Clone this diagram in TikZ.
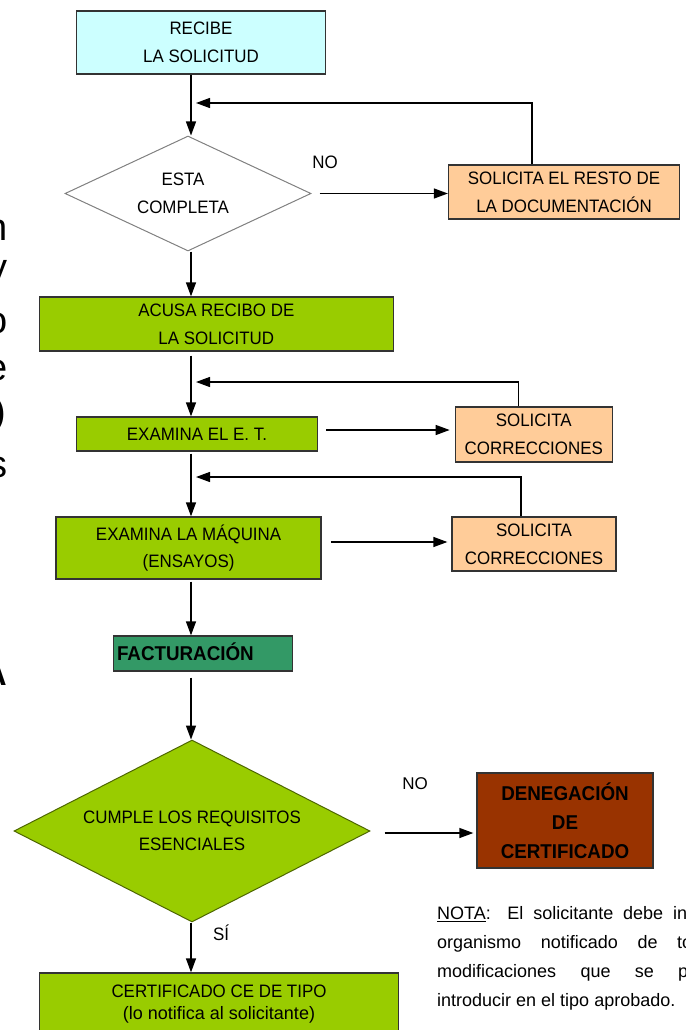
\documentclass[tikz,border=0pt]{standalone}
\usepackage{fontspec}
\setmainfont{Liberation Sans}
\newfontfamily\capsfont{Liberation Sans}[FakeStretch=0.94]
\usetikzlibrary{arrows.meta,shapes.geometric}

\definecolor{celeste}{HTML}{CCFFFF}
\definecolor{salmon}{HTML}{FFCC99}
\definecolor{lima}{HTML}{99CC00}
\definecolor{pino}{HTML}{339966}
\definecolor{ladrillo}{HTML}{993300}
\definecolor{oliva}{HTML}{4D6600}

\begin{document}
\begin{tikzpicture}[x=1pt, y=-1pt,
	   caja/.style={draw=black!80, line width=1.3pt, rectangle, inner sep=0pt, align=center,
	      font=\capsfont\fontsize{18}{28}\selectfont},
	   rombo/.style={draw, diamond, inner sep=0pt, align=center,
	      font=\capsfont\fontsize{18}{28}\selectfont},
	   flecha/.style={-{Triangle[length=14pt,width=10pt]}, line width=1.3pt},
	   etiq/.style={inner sep=0pt, font=\capsfont\fontsize{18}{22}\selectfont},
	   trozo/.style={anchor=base east, inner sep=0pt, font=\fontsize{38}{40}\selectfont}]
	   \useasboundingbox (0,0) rectangle (685,1030);
	   \clip (0,0) rectangle (685,1030);
	   \coordinate (spine) at (191,0);
	   % the main column
	   \node [caja, fill=celeste, minimum width=249pt, minimum height=63pt] (recibe) at (201,42.5) {RECIBE\\LA SOLICITUD};
	   \node [rombo, draw=black!50, line width=1pt, fill=white, shape aspect=2.14, minimum width=246pt, minimum height=115pt] (esta) at (188,193.5) {\hspace*{-10pt}ESTA\\\hspace*{-10pt}COMPLETA};
	   \node [caja, fill=salmon, minimum width=231pt, minimum height=54pt] (resto) at (564,192) {SOLICITA EL RESTO DE\\LA DOCUMENTACIÓN};
	   \node [caja, fill=lima, minimum width=354pt, minimum height=54pt] (acusa) at (216.3,324) {ACUSA RECIBO DE\\LA SOLICITUD};
	   \node [caja, fill=lima, minimum width=241pt, minimum height=34pt] (et) at (197,434) {EXAMINA EL E. T.};
	   \node [caja, fill=salmon, minimum width=157pt, minimum height=55pt] (corr1) at (533.8,434.5) {SOLICITA\\CORRECCIONES};
	   \node [caja, fill=lima, minimum width=265pt, minimum height=62pt] (maq) at (188.6,548) {\raisebox{3pt}{\shortstack{EXAMINA LA MÁQUINA\\[8pt](ENSAYOS)}}};
	   \node [caja, fill=salmon, minimum width=164pt, minimum height=54pt] (corr2) at (534,544) {SOLICITA\\CORRECCIONES};
	   \node [caja, fill=pino, minimum width=179pt, minimum height=35pt, text width=172pt, align=left, font=\capsfont\bfseries\fontsize{20}{24}\selectfont] (fact) at (203,653.5) {\raisebox{3pt}{FACTURACIÓN}};
	   \node [rombo, draw=oliva, line width=1pt, fill=lima, shape aspect=1.96, minimum width=356pt, minimum height=182pt] (cumple) at (192,831) {\raisebox{-6pt}{\shortstack{CUMPLE LOS REQUISITOS\\[8pt]ESENCIALES}}};
	   \node [caja, fill=ladrillo, minimum width=176pt, minimum height=95pt, font=\capsfont\bfseries\fontsize{20}{29}\selectfont] (deneg) at (565,820.5) {DENEGACIÓN\\DE\\CERTIFICADO};
	   \node [caja, fill=lima, minimum width=359pt, minimum height=64pt, text depth=0pt] (cert) at (219,1005) {\raisebox{5pt}{\shortstack{CERTIFICADO CE DE TIPO\\[6pt]{\rmfamily\fontsize{18}{20}\selectfont(lo notifica al solicitante)}}}};
	   % down arrows
	   \draw [flecha] (recibe.south -| spine) -- (esta.north -| spine);
	   \draw [flecha] (esta.south -| spine) -- (acusa.north -| spine);
	   \draw [flecha, shorten <=4pt] (acusa.south -| spine) -- (et.north -| spine);
	   \draw [flecha, shorten <=2pt] (et.south -| spine) -- (maq.north -| spine);
	   \draw [flecha, shorten <=2pt] (maq.south -| spine) -- (fact.north -| spine);
	   \draw [flecha, shorten <=6pt] (fact.south -| spine) -- (cumple.north -| spine);
	   \draw [flecha] (cumple.south -| spine) -- (cert.north -| spine);
	   % side arrows
	   \draw [flecha, shorten <=8pt] (esta.east) -- (esta.east -| resto.west);
	   \draw [flecha, shorten <=8pt, shorten >=5pt] ([yshift=4pt]et.east) -- ([yshift=4pt]et.east -| corr1.west);
	   \draw [flecha, shorten <=9pt, shorten >=4pt] ([yshift=6pt]maq.east) -- ([yshift=6pt]maq.east -| corr2.west);
	   \draw [flecha, shorten <=14pt, shorten >=3pt] ([yshift=-2pt]cumple.east) -- ([yshift=-2pt]cumple.east -| deneg.west);
	   % going back up
	   \coordinate (back1) at (196,103);
	   \coordinate (back2) at (196,382);
	   \coordinate (back3) at (196,477);
	   \draw [flecha] ([xshift=-32pt]resto.north) |- (back1);
	   \draw [flecha] ([xshift=-15pt]corr1.north) |- (back2);
	   \draw [flecha] ([xshift=-13pt]corr2.north) |- (back3);
	   \node [etiq] (no1) at (325,162) {NO};
	   \node [etiq, font=\fontsize{17}{20}\selectfont] (no2) at (415,784) {NO};
	   \node [etiq] (si) at (221,933) {SÍ};
	   % the note, cut on the right like in the original
	   \node [anchor=north west, inner sep=0pt, align=left, font=\fontsize{18}{29}\selectfont] (nota) at (437,906)
	      {\makebox[250pt][s]{\underline{NOTA}: El solicitante debe in}\\
	       \makebox[255pt][s]{organismo notificado de to}\\
	       \makebox[251pt][s]{modificaciones que se p}\\
	       introducir en el tipo aprobado.};
	   % bits of text cut on the left
	   \node [trozo] (l1) at (8,240) {n};
	   \node [trozo] (l2) at (8,280) {y};
	   \node [trozo] (l3) at (8,333) {o};
	   \node [trozo] (l4) at (8,380) {e};
	   \node [trozo] (l5) at (6,424) {)};
	   \node [trozo] (l6) at (8,477) {s};
	   \node [trozo, font=\capsfont\bfseries\fontsize{34}{36}\selectfont] (l7) at (7,685) {A};
	\end{tikzpicture}
\end{document}
